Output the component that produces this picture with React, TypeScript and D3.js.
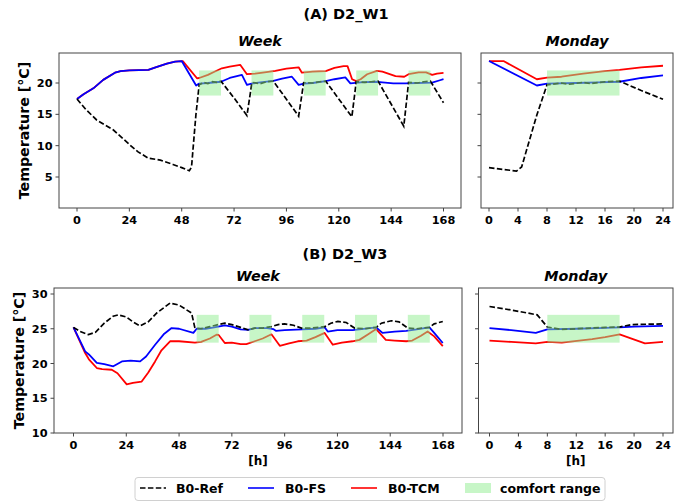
import React, { useEffect, useRef } from 'react';
import * as d3 from 'd3';

// ---- data (hour, °C) ----
const weekTicks = [0, 24, 48, 72, 96, 120, 144, 168];
const mondayTicks = [0, 4, 8, 12, 16, 20, 24];
const w1TempTicks = [5, 10, 15, 20];
const w3TempTicks = [10, 15, 20, 25, 30];

const weekComfortHours = [[56, 66], [80, 90], [104, 114], [128, 138], [152, 162]];
const mondayComfortHours = [[8, 18]];
const w1ComfortTemp = [18, 22];
const w3ComfortTemp = [23, 27];

const w1WeekRef = [
  [0, 17.45], [4, 15.8], [9, 14.1], [16.7, 12.5], [24.3, 10.1], [28, 9.0], [32.7, 8.0], [38.2, 7.7],
  [44, 7.0], [48, 6.5], [51.5, 6.0], [52.5, 6.6], [54.5, 14.9], [56, 19.7], [58, 20.1], [60, 19.9],
  [62, 20.2], [64, 20.1], [66, 20.3], [72, 17.6], [77.9, 14.8], [80.2, 20.1], [84, 19.9], [87, 20.2],
  [90, 20.3], [101.6, 14.7], [103.9, 20.05], [108, 20.0], [111, 20.2], [114, 20.3], [126, 14.6],
  [128, 20.2], [132, 20.1], [135, 20.2], [138, 20.3], [149.8, 13.1], [152, 20.1], [156, 20.0],
  [159, 20.2], [162, 20.3], [168, 16.85],
];
const w1WeekFS = [
  [0, 17.45], [3, 18.2], [7.5, 19.15], [12, 20.5], [17.4, 21.65], [20, 21.9], [24, 22.0], [32.7, 22.1],
  [36, 22.5], [41.2, 23.1], [45, 23.4], [48, 23.5], [54.6, 19.6], [56, 19.9], [60, 20.0], [66, 20.2],
  [70, 20.8], [75.6, 21.3], [77.9, 19.7], [80, 19.9], [84, 20.1], [90, 20.35], [94, 20.7], [98.5, 21.0],
  [101.6, 19.7], [104, 19.9], [108, 20.0], [114, 20.3], [118, 20.6], [123, 20.9], [125.3, 19.95],
  [130, 20.1], [136.8, 20.2], [140, 20.1], [145, 19.95], [150.5, 19.95], [156, 20.0], [162.8, 20.05],
  [166, 20.4], [168, 20.6],
];
const w1WeekTCM = [
  [0, 17.45], [3, 18.2], [7.5, 19.15], [12, 20.5], [17.4, 21.65], [20, 21.9], [24, 22.0], [32.7, 22.1],
  [36, 22.5], [41.2, 23.1], [45, 23.4], [48.5, 23.5], [55, 20.75], [56, 20.8], [60, 21.3], [63, 21.8],
  [66.4, 22.35], [70, 22.6], [74.8, 22.9], [77.9, 21.4], [81.7, 21.5], [86, 21.7], [90.9, 21.95],
  [96, 22.3], [101.6, 22.5], [103.1, 21.65], [108, 21.8], [114, 21.9], [118, 22.4], [122.2, 22.7],
  [124, 22.7], [126.1, 20.6], [128, 20.3], [130, 20.6], [133, 21.4], [137.5, 21.95], [140, 21.8],
  [146, 21.1], [150, 21.0], [152, 21.4], [156.6, 21.7], [160, 21.7], [162.8, 21.3], [165, 21.5], [168, 21.6],
];
const w1MonRef = [
  [0, 6.5], [2, 6.2], [3.8, 5.95], [4.5, 6.6], [6.6, 14.9], [8, 19.7], [10, 20.0], [11, 19.8],
  [13, 20.1], [14, 19.9], [16, 20.2], [18, 20.3], [21, 18.8], [24, 17.4],
];
const w1MonFS = [[0, 23.5], [6.6, 19.6], [8, 19.9], [12, 20.0], [15, 20.1], [18, 20.2], [21, 20.8], [24, 21.2]];
const w1MonTCM = [
  [0, 23.5], [2, 23.5], [6.6, 20.6], [8, 20.85], [10, 21.0], [13, 21.5], [16, 21.9], [18, 22.1], [21, 22.5], [24, 22.75],
];

const w3WeekRef = [
  [0, 25.2], [3, 24.6], [6.8, 24.15], [10, 24.5], [14, 25.8], [18, 26.8], [20.4, 27.0], [24, 26.7],
  [27, 26.0], [30.3, 25.4], [34, 26.0], [38, 27.3], [43.9, 28.7], [48, 28.4], [53.7, 27.25], [55.2, 25.1],
  [58, 25.0], [62, 25.3], [65.8, 25.6], [68.8, 25.8], [72, 25.6], [76, 25.2], [79.4, 24.85], [82.4, 25.1],
  [86, 25.1], [90, 25.3], [93, 25.6], [96, 25.7], [100, 25.5], [103.6, 25.1], [108, 25.1], [114.2, 25.3],
  [117, 25.8], [120.2, 26.05], [124, 25.9], [127.8, 25.1], [132, 25.0], [137.6, 25.2], [140, 25.8],
  [144.5, 26.15], [148, 26.0], [152, 25.1], [156, 25.0], [161.8, 25.2], [164, 25.7], [167.9, 26.05],
];
const w3WeekFS = [
  [0, 25.2], [5.3, 21.75], [7, 21.3], [10.6, 20.1], [14, 19.9], [18.1, 19.6], [22, 20.3], [26, 20.4],
  [30.3, 20.3], [33, 21.0], [37.1, 22.7], [41, 24.2], [44.6, 25.1], [48, 25.0], [54.5, 24.4], [56, 25.0],
  [60, 25.0], [64, 25.2], [68.8, 25.5], [72, 25.3], [76, 24.9], [79.4, 24.85], [82.4, 25.1], [88, 25.1],
  [90.8, 24.95], [92, 24.7], [96, 24.8], [104, 24.9], [110, 25.0], [114.2, 25.2], [115.6, 24.6],
  [120, 24.8], [126.9, 24.8], [130, 24.9], [137.6, 25.2], [140.5, 24.4], [146, 24.6], [151.3, 24.7],
  [156, 24.9], [161.8, 25.2], [164, 24.4], [167.9, 22.95],
];
const w3WeekTCM = [
  [0, 25.2], [5.3, 21.5], [7, 20.6], [10.6, 19.35], [13, 19.2], [17.4, 19.1], [20, 18.6], [24.2, 17.0],
  [27, 17.2], [31, 17.4], [34, 18.7], [37.1, 20.3], [40, 21.9], [43.9, 23.2], [48, 23.2], [55.2, 23.0],
  [58, 23.1], [62, 23.6], [65, 24.15], [66, 24.1], [68.8, 22.95], [72, 23.0], [76, 22.8], [78.6, 22.8],
  [82.4, 23.2], [86, 23.6], [90, 24.2], [93.8, 22.55], [98, 22.9], [102, 23.2], [106, 23.3], [110, 23.8],
  [114.2, 24.4], [117.9, 22.7], [122, 23.0], [126.9, 23.2], [130, 23.4], [134, 24.2], [137.6, 24.95],
  [142, 23.4], [146, 23.3], [151.3, 23.2], [154, 23.3], [158, 24.0], [161, 24.6], [164, 23.9], [167.9, 22.5],
];
const w3MonRef = [
  [0, 28.2], [3, 27.7], [6.6, 27.0], [8, 25.25], [9.9, 24.9], [12, 25.0], [14, 25.1], [16, 25.2],
  [18, 25.25], [19.7, 25.6], [24, 25.7],
];
const w3MonFS = [[0, 25.1], [3, 24.8], [6.4, 24.4], [8, 24.9], [12, 25.0], [15, 25.1], [18, 25.2], [20, 25.3], [24, 25.4]];
const w3MonTCM = [
  [0, 23.3], [3, 23.1], [6.4, 22.9], [8, 23.1], [10, 23.0], [14.2, 23.5], [16, 23.8], [18, 24.2], [21.5, 22.9], [24, 23.1],
];

const seriesNames = ['B0-Ref', 'B0-FS', 'B0-TCM'];
const comfortName = 'comfort range';

const FONT = 'DejaVu Sans, sans-serif';
const COMFORT = '#90ee90';

function drawPanel(root, p) {
  const { frame, xTicks, yTicks, xDomain, xRange, yDomain, yRange } = p;
  const x = d3.scaleLinear().domain(xDomain).range(xRange);
  const y = d3.scaleLinear().domain(yDomain).range(yRange);
  const g = root.append('g');

  const line = d3.line().x((d) => x(d[0])).y((d) => y(d[1]));

  // TCM first, FS over it, dashed Ref on top
  g.append('path').datum(p.tcm).attr('d', line).attr('fill', 'none')
    .attr('stroke', '#ff0000').attr('stroke-width', 1.8).attr('stroke-linejoin', 'round');
  g.append('path').datum(p.fs).attr('d', line).attr('fill', 'none')
    .attr('stroke', '#0000ff').attr('stroke-width', 1.8).attr('stroke-linejoin', 'round');
  g.append('path').datum(p.ref).attr('d', line).attr('fill', 'none')
    .attr('stroke', '#000').attr('stroke-width', 1.7).attr('stroke-dasharray', '5.5,2.4');

  // comfort range drawn over the lines, semi transparent
  g.selectAll('rect.comfort').data(p.comfortHours).enter().append('rect')
    .attr('class', 'comfort')
    .attr('x', (d) => x(d[0]))
    .attr('width', (d) => x(d[1]) - x(d[0]))
    .attr('y', y(p.comfortTemp[1]))
    .attr('height', y(p.comfortTemp[0]) - y(p.comfortTemp[1]))
    .attr('fill', COMFORT).attr('opacity', 0.5);

  g.append('rect').attr('x', frame.x0).attr('y', frame.y0)
    .attr('width', frame.x1 - frame.x0).attr('height', frame.y1 - frame.y0)
    .attr('fill', 'none').attr('stroke', '#444').attr('stroke-width', 1);

  // x ticks
  xTicks.forEach((t) => {
    g.append('line').attr('x1', x(t)).attr('x2', x(t)).attr('y1', frame.y1).attr('y2', frame.y1 + 3.5)
      .attr('stroke', '#444');
    g.append('text').attr('x', x(t)).attr('y', frame.y1 + 15.5).attr('text-anchor', 'middle')
      .style('font-family', FONT).style('font-weight', 'bold').style('font-size', '11.3px').text(t);
  });
  // y ticks
  yTicks.forEach((t) => {
    g.append('line').attr('x1', frame.x0 - 3.5).attr('x2', frame.x0).attr('y1', y(t)).attr('y2', y(t))
      .attr('stroke', '#444');
    if (p.yLabels) {
      g.append('text').attr('x', frame.x0 - 6.5).attr('y', y(t)).attr('dy', '0.36em').attr('text-anchor', 'end')
        .style('font-family', FONT).style('font-weight', 'bold').style('font-size', '11.3px').text(t);
    }
  });

  g.append('text').attr('x', (frame.x0 + frame.x1) / 2).attr('y', frame.y0 - 7).attr('text-anchor', 'middle')
    .style('font-family', FONT).style('font-weight', 'bold').style('font-style', 'italic').style('font-size', '14.3px')
    .text(p.title);

  if (p.xLabel) {
    g.append('text').attr('x', (frame.x0 + frame.x1) / 2).attr('y', frame.y1 + 32).attr('text-anchor', 'middle')
      .style('font-family', FONT).style('font-weight', 'bold').style('font-size', '12px').text(p.xLabel);
  }
  if (p.yLabelX) {
    const cy = (frame.y0 + frame.y1) / 2;
    g.append('text').attr('transform', `translate(${p.yLabelX},${cy}) rotate(-90)`).attr('text-anchor', 'middle')
      .attr('dy', '0.36em')
      .style('font-family', FONT).style('font-weight', 'bold').style('font-size', '14.2px').text('Temperature [°C]');
  }
}

export default function App() {
  const ref = useRef(null);

  useEffect(() => {
    const svg = d3.select(ref.current);
    svg.selectAll('*').remove();

    const bold = (sel, size) => sel.style('font-family', FONT).style('font-weight', 'bold').style('font-size', size);

    bold(svg.append('text').attr('x', 346).attr('y', 19).attr('text-anchor', 'middle'), '14.5px').text('(A) D2_W1');
    bold(svg.append('text').attr('x', 345).attr('y', 259).attr('text-anchor', 'middle'), '14.5px').text('(B) D2_W3');

    drawPanel(svg, {
      frame: { x0: 59, x1: 461, y0: 53, y1: 208 }, xTicks: weekTicks, yTicks: w1TempTicks,
      xDomain: [0, 168], xRange: [77, 443.5], yDomain: [5, 20], yRange: [177, 83], yLabels: true, yLabelX: 24,
      ref: w1WeekRef, fs: w1WeekFS, tcm: w1WeekTCM, comfortHours: weekComfortHours, comfortTemp: w1ComfortTemp,
      title: 'Week',
    });
    drawPanel(svg, {
      frame: { x0: 481, x1: 673, y0: 53, y1: 208 }, xTicks: mondayTicks, yTicks: w1TempTicks,
      xDomain: [0, 24], xRange: [489, 663], yDomain: [5, 20], yRange: [177, 83], yLabels: false,
      ref: w1MonRef, fs: w1MonFS, tcm: w1MonTCM, comfortHours: mondayComfortHours, comfortTemp: w1ComfortTemp,
      title: 'Monday',
    });
    drawPanel(svg, {
      frame: { x0: 54, x1: 462, y0: 288, y1: 433 }, xTicks: weekTicks, yTicks: w3TempTicks,
      xDomain: [0, 168], xRange: [73.5, 443], yDomain: [10, 30], yRange: [433, 294], yLabels: true, yLabelX: 19,
      ref: w3WeekRef, fs: w3WeekFS, tcm: w3WeekTCM, comfortHours: weekComfortHours, comfortTemp: w3ComfortTemp,
      title: 'Week', xLabel: '[h]',
    });
    drawPanel(svg, {
      frame: { x0: 478.5, x1: 673, y0: 288, y1: 433 }, xTicks: mondayTicks, yTicks: w3TempTicks,
      xDomain: [0, 24], xRange: [489.5, 663], yDomain: [10, 30], yRange: [433, 294], yLabels: false,
      ref: w3MonRef, fs: w3MonFS, tcm: w3MonTCM, comfortHours: mondayComfortHours, comfortTemp: w3ComfortTemp,
      title: 'Monday', xLabel: '[h]',
    });

    // legend
    const lg = svg.append('g');
    lg.append('rect').attr('x', 135).attr('y', 477.5).attr('width', 470).attr('height', 23).attr('rx', 3)
      .attr('fill', '#fff').attr('stroke', '#d0d0d0').attr('stroke-width', 1);
    const handles = [
      { x: 140, text: 176, color: '#000', dash: '5.5,2.4' },
      { x: 248, text: 285, color: '#0000ff', dash: null },
      { x: 351, text: 388, color: '#ff0000', dash: null },
    ];
    handles.forEach((h, i) => {
      lg.append('line').attr('x1', h.x).attr('x2', h.x + 26).attr('y1', 488).attr('y2', 488)
        .attr('stroke', h.color).attr('stroke-width', 1.6).attr('stroke-dasharray', h.dash);
      bold(lg.append('text').attr('x', h.text).attr('y', 492.5), '12.5px').text(seriesNames[i]);
    });
    lg.append('rect').attr('x', 465).attr('y', 483).attr('width', 26).attr('height', 10)
      .attr('fill', COMFORT).attr('opacity', 0.5);
    bold(lg.append('text').attr('x', 500).attr('y', 492.5), '12.5px').text(comfortName);
  }, []);

  return (
    <svg ref={ref} width={674} height={502} style={{ position: 'absolute', left: 0, top: 0, background: '#fff' }} />
  );
}
